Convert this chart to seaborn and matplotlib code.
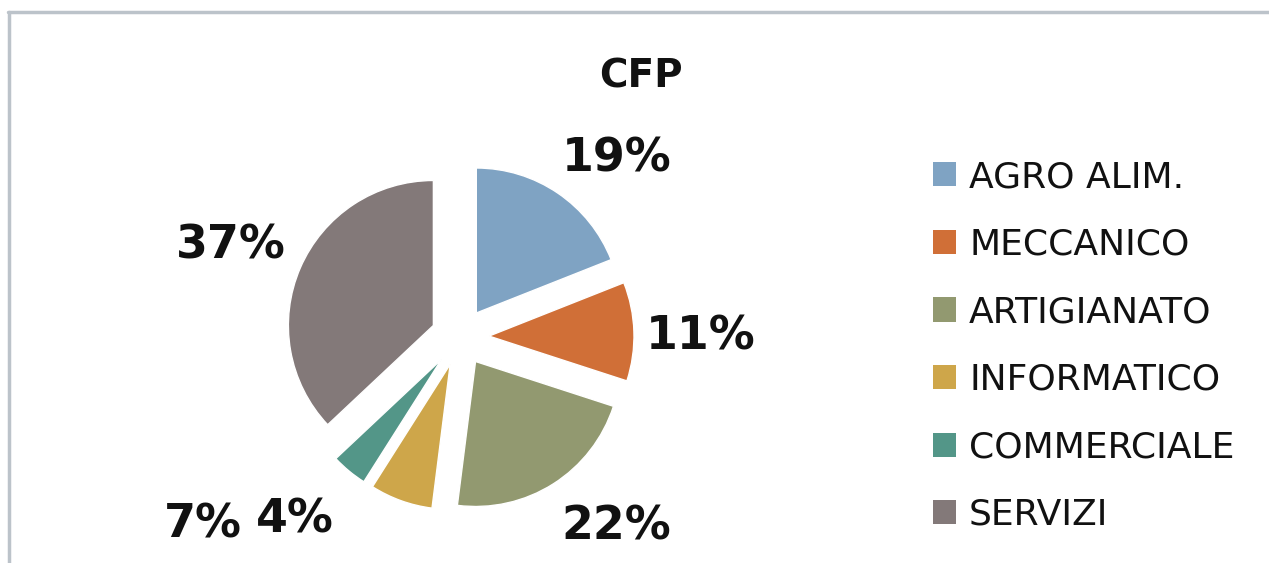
import matplotlib
matplotlib.use('Agg')
import matplotlib.pyplot as plt
import seaborn as sns
from matplotlib.lines import Line2D
from matplotlib.patches import Patch

sns.set_theme(style='white')
plt.rcParams['font.family'] = ['DejaVu Sans']

# data
settori = ['AGRO ALIM.', 'MECCANICO', 'ARTIGIANATO', 'INFORMATICO',
           'COMMERCIALE', 'SERVIZI']
quote = [19, 11, 22, 7, 4, 37]
colori = ['#7FA3C3', '#D06F37', '#929970', '#CEA64A', '#539688', '#837979']

# label positions (pie radius units)
pos_etichette = [(1.08, 1.23), (1.66, 0.0), (1.08, -1.31),
                 (-1.77, -1.30), (-1.14, -1.26), (-1.58, 0.63)]

fig = plt.figure(figsize=(12.69, 5.63), dpi=100)
ax = fig.add_axes([0, 0, 1, 1])

palette = sns.color_palette(colori)
wedges, _ = ax.pie(quote,
                   colors=palette,
                   startangle=90,
                   counterclock=False,
                   explode=[0.2] * len(quote),
                   radius=1)

for q, (x, y) in zip(quote, pos_etichette):
    ax.text(x, y, f'{q}%', ha='center', va='center',
            fontsize=33, fontweight='bold', color='#111111')

# 145 px per unit, centre at (460, 337) px from top-left
ax.set_xlim(-460 / 145, (1269 - 460) / 145)
ax.set_ylim(-(563 - 337) / 145, 337 / 145)
ax.set_aspect('equal')
ax.axis('off')

fig.text(641 / 1269, 1 - 76 / 563, 'CFP', ha='center', va='center',
         fontsize=28, fontweight='bold', color='#111111')

handles = [Patch(facecolor=c, edgecolor='none') for c in palette]
leg = fig.legend(handles, settori,
                 loc='upper left',
                 bbox_to_anchor=(933 / 1269, 1 - 160 / 563),
                 frameon=False,
                 fontsize=26,
                 handlelength=0.65,
                 handleheight=0.65,
                 handletextpad=0.35,
                 labelspacing=0.93,
                 borderpad=0,
                 borderaxespad=0)
for t in leg.get_texts():
    t.set_color('#111111')

# outer frame of the chart area
fig.add_artist(Line2D([8 / 1269, 1], [1 - 12 / 563, 1 - 12 / 563],
                      transform=fig.transFigure, color='#BCC3CA', lw=2.5))
fig.add_artist(Line2D([9 / 1269, 9 / 1269], [0, 1 - 12 / 563],
                      transform=fig.transFigure, color='#BCC3CA', lw=2.5))

fig.savefig('out.png', dpi=100, facecolor='white')
